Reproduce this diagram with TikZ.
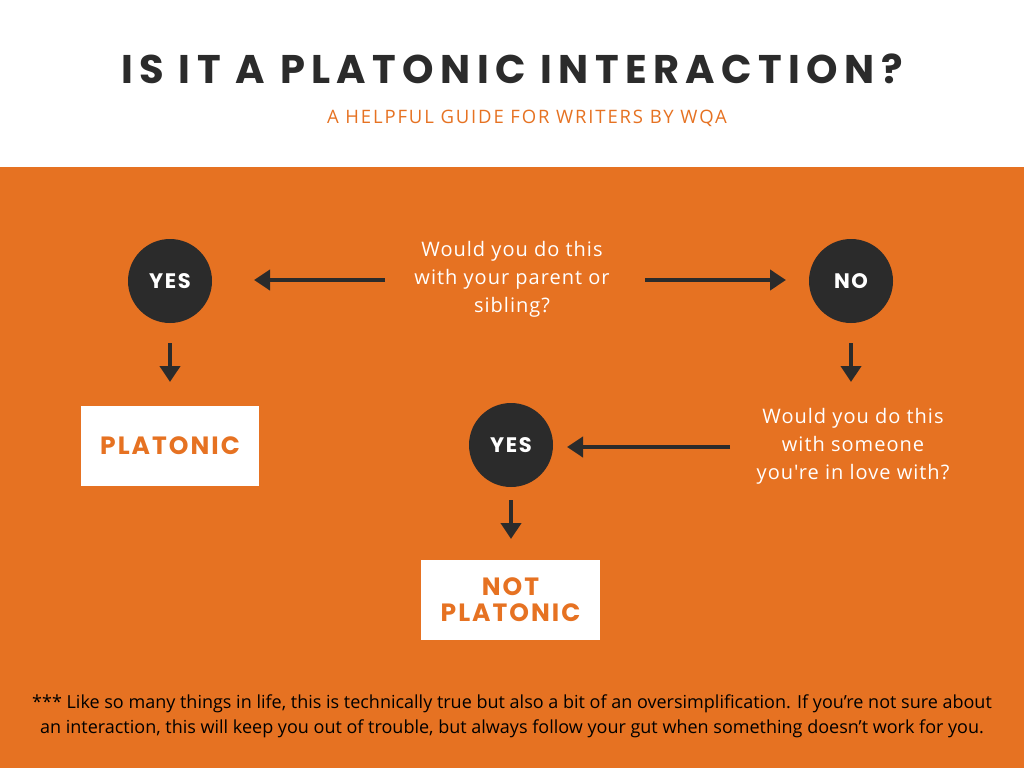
\documentclass[tikz,border=0pt]{standalone}
\usepackage{fontspec}
\setmainfont{Open Sans}
\newfontfamily\pop[LetterSpace=16]{Poppins}
\newfontfamily\popb[LetterSpace=8]{Poppins}
\newfontfamily\sub[LetterSpace=10]{Open Sans}
\newfontfamily\qf[LetterSpace=5]{Open Sans}
\usetikzlibrary{arrows.meta}
\definecolor{org}{HTML}{E67222}
\definecolor{drk}{HTML}{2B2B2B}
\begin{document}
\begin{tikzpicture}[x=1pt,y=-1pt,
  circ/.style={circle,fill=drk,minimum size=84pt,inner sep=0pt,text=white,font=\popb\bfseries\fontsize{21}{21}\selectfont},
  res/.style={fill=white,text=org,align=center,font=\popb\bfseries\fontsize{25}{25}\selectfont},
  q/.style={align=center,text=white,font=\qf\fontsize{20}{28}\selectfont},
  arr/.style={draw=drk,line width=4pt,-{Triangle[length=16pt,width=20pt]}}]
\useasboundingbox (0,0) rectangle (1024,768);
\fill[white] (0,0) rectangle (1024,167);
\fill[org] (0,167) rectangle (1024,768);
\node[text=drk,font=\pop\bfseries\fontsize{40}{40}\selectfont] (title) at (512,69) {IS IT A PLATONIC INTERACTION?};
\node[text=org,font=\sub\fontsize{18.5}{18.5}\selectfont] (subtitle) at (527,118) {A HELPFUL GUIDE FOR WRITERS BY WQA};
\node[circ] (y1) at (170,281) {YES};
\node[circ] (n1) at (851,281) {NO};
\node[circ] (y2) at (511,445) {YES};
\node[q] (q1) at (512,279) {Would you do this\\with your parent or\\sibling?};
\node[q] (q2) at (853,446) {Would you do this\\with someone\\you're in love with?};
\node[res,minimum width=178pt,minimum height=80pt] (p) at (170,446) {PLATONIC};
\node[res,minimum width=179pt,minimum height=80pt] (np) at (510.5,600) {NOT\\[1pt]PLATONIC};
\coordinate (a1s) at (385,280); \coordinate (a1e) at (254,280);
\coordinate (a2s) at (645,280); \coordinate (a2e) at (786,280);
\coordinate (a3s) at (170,343); \coordinate (a3e) at (170,382);
\coordinate (a4s) at (851,343); \coordinate (a4e) at (851,382);
\coordinate (a5s) at (730,447); \coordinate (a5e) at (567,447);
\coordinate (a6s) at (511,500); \coordinate (a6e) at (511,539);
\foreach \i in {1,...,6}{\draw[arr] (a\i s) -- (a\i e);}
\node[text=black,align=center,font=\fontsize{18}{25}\selectfont] (foot) at (512,716) {*** Like so many things in life, this is technically true but also a bit of an oversimplification. If you're not sure about\\an interaction, this will keep you out of trouble, but always follow your gut when something doesn't work for you.};
\end{tikzpicture}
\end{document}
